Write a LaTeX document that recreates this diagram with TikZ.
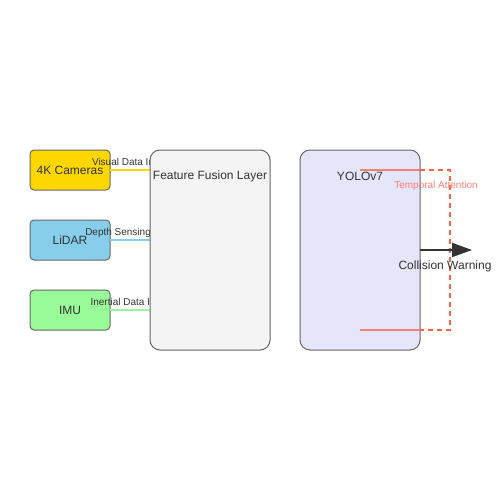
\documentclass[tikz,border=0pt]{standalone}
\usepackage{fontspec}
\setmainfont{Liberation Sans}
\usetikzlibrary{arrows.meta}
\usetikzlibrary{positioning}
\definecolor{gold}{HTML}{FFD700}
\definecolor{skyblue}{HTML}{87CEEB}
\definecolor{palegreen}{HTML}{98FB98}
\definecolor{fusegrey}{HTML}{F4F4F4}
\definecolor{lavender}{HTML}{E6E6FA}
\definecolor{salmon}{HTML}{FA8072}
\definecolor{tomato}{HTML}{FF6347}
\definecolor{edge}{HTML}{666666}
\definecolor{ink}{HTML}{333333}
\tikzstyle{sensor} = [rectangle, rounded corners=4pt, minimum width=80pt, minimum height=40pt, draw=edge, line width=1pt, text=ink, font=\fontsize{12}{14}\selectfont, inner sep=0pt, outer sep=0pt]
\tikzstyle{stage} = [rectangle, rounded corners=10pt, minimum width=120pt, minimum height=200pt, draw=edge, line width=1pt, inner sep=0pt, outer sep=0pt]
\tikzstyle{title} = [text=ink, font=\fontsize{12}{14}\selectfont, inner sep=0pt]
\tikzstyle{feed} = [line width=2pt]
\tikzstyle{feedlbl} = [text=ink, font=\fontsize{10}{12}\selectfont, inner sep=0pt]
\tikzstyle{att} = [salmon, line width=2pt]
\tikzstyle{attdash} = [tomato, line width=2pt, dash pattern=on 5pt off 4pt]
\tikzstyle{aro} = [-{Triangle[length=20pt,width=14pt]}, ink, line width=2pt]

\begin{document}
\begin{tikzpicture}[x=1pt, y=-1pt, node distance=30pt]

  \useasboundingbox (0,0) rectangle (500,500);

  \node (cam) [sensor, fill=gold] at (70,170) {4K Cameras};
  \node (lidar) [sensor, fill=skyblue, below=of cam] {LiDAR};
  \node (imu) [sensor, fill=palegreen, below=of lidar] {IMU};

  \coordinate (fuseedge) at (150,170);

  \draw [feed, gold] (cam.east) -- (cam.east -| fuseedge);
  \draw [feed, skyblue] (lidar.east) -- (lidar.east -| fuseedge);
  \draw [feed, palegreen] (imu.east) -- (imu.east -| fuseedge);

  % labels run under the fusion box
  \begin{scope}
    \clip (0,0) rectangle (fuseedge |- 0,500);
    \node (camlbl) [feedlbl] at ([yshift=7.5pt]cam.east -| 130,0) {Visual Data Input};
    \node (lidarlbl) [feedlbl] at ([yshift=7.5pt]lidar.east -| 130,0) {Depth Sensing Data};
    \node (imulbl) [feedlbl] at ([yshift=7.5pt]imu.east -| 130,0) {Inertial Data Input};
  \end{scope}

  \node (fusion) [stage, fill=fusegrey, right=40pt of cam.north east, anchor=north west] {};
  \node (fusiontxt) [title] at ([yshift=-26pt]fusion.north) {Feature Fusion Layer};

  \node (yolo) [stage, fill=lavender, right=30pt of fusion] {};
  \node (yolotxt) [title] at ([yshift=-26pt]yolo.north) {YOLOv7};

  \coordinate (attA) at ([yshift=-20pt]yolo.north);
  \coordinate (attB) at ([yshift=20pt]yolo.south);
  \draw [att] (attA) -- (attA -| yolo.east);
  \draw [att] (attB) -- (attB -| yolo.east);
  \draw [attdash] (attA -| yolo.east) -- ++(30,0) |- (attB -| yolo.east);
  \node (atttxt) [text=salmon, font=\fontsize{10}{12}\selectfont, inner sep=0pt] at ([xshift=16pt,yshift=-16pt]attA -| yolo.east) {Temporal Attention};

  \coordinate (warnend) at ([xshift=52pt]yolo.east);
  \draw [aro] (yolo.east) -- (warnend);
  \node (warntxt) [title] at ([xshift=25pt,yshift=-16pt]yolo.east) {Collision Warning};

\end{tikzpicture}
\end{document}
